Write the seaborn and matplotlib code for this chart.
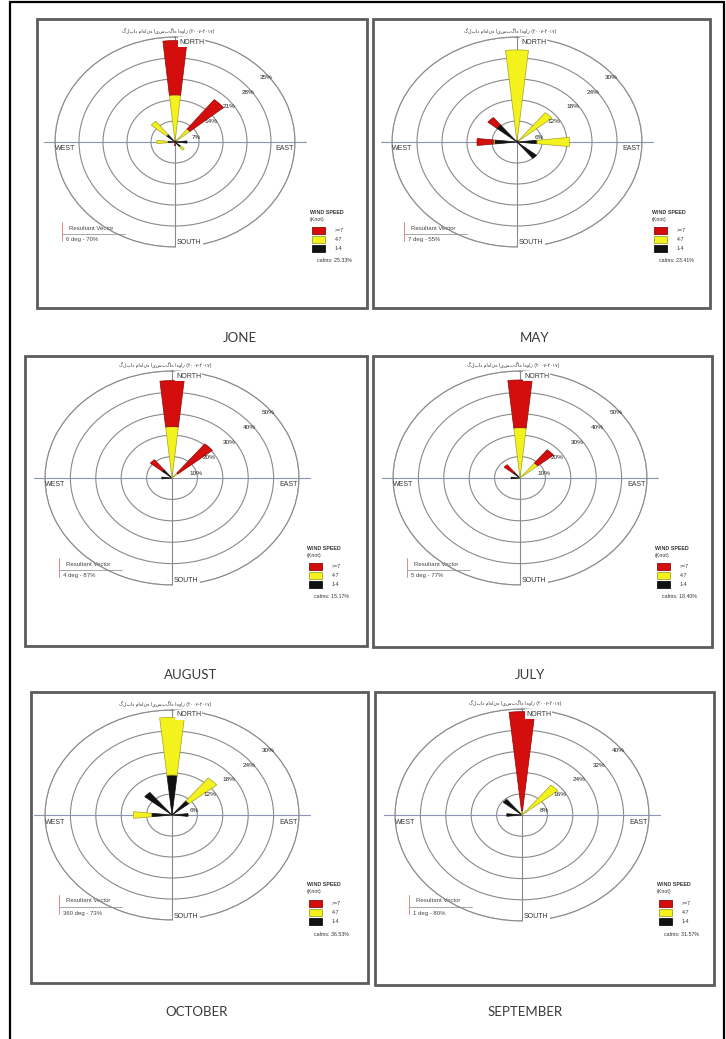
import numpy as np
import matplotlib
matplotlib.use("Agg")
import matplotlib.pyplot as plt
from matplotlib.patches import Rectangle
import seaborn as sns

# ---------------------------------------------------------------- data
DIRECTIONS = ["N", "NE", "E", "SE", "S", "SW", "W", "NW"]
BEARINGS = [0, 45, 90, 135, 180, 225, 270, 315]
SPEED_CLASSES = [">=7", "4-7", "1-4"]
MONTHS = ["JONE", "MAY", "AUGUST", "JULY", "OCTOBER", "SEPTEMBER"]

# frequency (%) per direction and wind-speed class (knots)
june_1_4 = [0.5, 0.7, 3.5, 2.1, 0.0, 0.0, 2.1, 3.2]
june_4_7 = [15.2, 4.9, 0.0, 1.4, 0.0, 0.0, 3.2, 5.7]
june_7p = [18.1, 12.6, 0.0, 0.0, 1.2, 0.0, 0.0, 0.0]

may_1_4 = [0.5, 0.5, 4.8, 6.0, 0.0, 0.0, 5.4, 6.3]
may_4_7 = [25.8, 10.3, 7.8, 0.0, 0.0, 0.0, 0.3, 0.0]
may_7p = [0.0, 0.0, 0.0, 0.0, 0.0, 0.0, 3.9, 2.7]

august_1_4 = [0.0, 0.0, 0.0, 0.0, 0.0, 0.0, 4.0, 5.0]
august_4_7 = [24.0, 3.0, 0.0, 0.0, 0.0, 0.0, 0.0, 0.0]
august_7p = [21.5, 17.5, 0.0, 0.0, 0.0, 0.0, 0.0, 6.0]

july_1_4 = [0.0, 0.0, 0.0, 0.0, 0.0, 0.0, 3.5, 3.5]
july_4_7 = [23.5, 9.0, 0.0, 0.0, 0.0, 0.0, 0.0, 0.0]
july_7p = [22.3, 8.0, 0.0, 0.0, 0.0, 0.0, 0.0, 4.5]

october_1_4 = [11.4, 5.2, 3.8, 0.0, 0.0, 0.0, 4.8, 8.3]
october_4_7 = [16.5, 8.4, 0.0, 0.0, 0.0, 0.0, 4.3, 0.0]
october_7p = [0.0, 0.0, 0.0, 0.0, 0.0, 0.0, 0.0, 0.0]

september_1_4 = [0.0, 0.0, 0.0, 0.0, 0.0, 0.0, 4.8, 7.6]
september_4_7 = [1.6, 14.5, 0.0, 0.0, 0.0, 0.0, 0.0, 0.0]
september_7p = [37.4, 0.0, 0.0, 0.0, 0.0, 0.0, 0.0, 0.0]

SLOW = [june_1_4, may_1_4, august_1_4, july_1_4, october_1_4, september_1_4]
MID = [june_4_7, may_4_7, august_4_7, july_4_7, october_4_7, september_4_7]
FAST = [june_7p, may_7p, august_7p, july_7p, october_7p, september_7p]

RING_STEPS = [7, 6, 10, 10, 6, 8]
CALMS = ["25.33%", "23.41%", "15.17%", "18.40%", "36.53%", "31.57%"]
RESULTANT = ["6 deg - 70%", "7 deg - 55%", "4 deg - 87%",
             "5 deg - 77%", "360 deg - 73%", "1 deg - 80%"]
TITLE_FA = "گلباد ماهانه ایستگاه اهواز (۲۰۰۷-۲۰۱۷)"

# ---------------------------------------------------------------- layout
W, H = 726, 1039
BOXES = [(37, 19, 367, 308), (373, 19, 710, 308),
         (25, 356, 367, 646), (373, 356, 712, 647),
         (31, 692, 368, 983), (375, 692, 714, 985)]
ROSES = [(175, 142, 120, 105), (517, 142, 125, 105),
         (172, 478, 127, 107), (520, 478, 127, 107),
         (172, 815, 127, 105), (522, 815, 127, 106)]
MONTH_POS = [(240, 338), (535, 338), (191, 675),
             (530, 675), (197, 1012), (525, 1012)]

C_FAST, C_MID, C_SLOW = "#d40d0d", "#f4f21c", "#111111"
E_FAST, E_MID, E_SLOW = "#8c0a0a", "#a3a32a", "#111111"
RING = "#8a8a8a"
AXIS = "#8d93b3"

sns.set_theme(style="white")
plt.rcParams["font.family"] = ["Liberation Sans", "DejaVu Sans"]

fig = plt.figure(figsize=(W / 100, H / 100), dpi=100)
fig.patch.set_facecolor("white")
bg = fig.add_axes([0, 0, 1, 1])
bg.set_xlim(0, W)
bg.set_ylim(H, 0)
bg.axis("off")

# page frame
bg.plot([10, 10], [2, H], color="black", lw=1.6)
bg.plot([10, 724], [2, 2], color="black", lw=1.6)
bg.plot([724, 724], [2, H], color="black", lw=1.6)

theta = np.deg2rad(BEARINGS)
width = np.deg2rad(12)

for i in range(6):
    x0, y0, x1, y1 = BOXES[i]
    bg.add_patch(Rectangle((x0, y0), x1 - x0, y1 - y0, fill=False,
                           edgecolor="#5c5c5c", lw=2.0))
    mx, my = MONTH_POS[i]
    bg.text(mx, my, MONTHS[i], ha="center", va="center", fontsize=9.5,
            family="Lato", color="#3a3a3a")

    cx, cy, rx, ry = ROSES[i]
    ax = fig.add_axes([(cx - rx) / W, 1 - (cy + ry) / H, 2 * rx / W, 2 * ry / H],
                      projection="polar")
    ax.set_aspect("auto")
    ax.patch.set_alpha(0)
    ax.set_theta_zero_location("N")
    ax.set_theta_direction(-1)
    step = RING_STEPS[i]
    rmax = 5 * step
    ax.set_ylim(0, rmax)
    ax.set_yticks(np.arange(1, 6) * step)
    ax.set_yticklabels([])
    ax.set_xticks([])
    ax.grid(True, axis="y", color=RING, lw=0.8)
    ax.spines["polar"].set_color(RING)
    ax.spines["polar"].set_linewidth(0.8)

    # compass cross
    ax.plot([np.pi / 2, np.pi / 2], [0, rmax * 1.09], color=AXIS, lw=0.8, clip_on=False, zorder=1)
    ax.plot([3 * np.pi / 2, 3 * np.pi / 2], [0, rmax * 1.09], color=AXIS, lw=0.8, clip_on=False, zorder=1)
    ax.plot([0, 0], [0, rmax], color=RING, lw=0.8, zorder=1)
    ax.plot([np.pi, np.pi], [0, rmax], color=RING, lw=0.8, zorder=1)

    # stacked sectors
    slow = np.array(SLOW[i])
    mid = np.array(MID[i])
    fast = np.array(FAST[i])
    for vals, base, fc, ec in [(slow, np.zeros(8), C_SLOW, E_SLOW),
                               (mid, slow, C_MID, E_MID),
                               (fast, slow + mid, C_FAST, E_FAST)]:
        m = vals > 0
        ax.bar(theta[m], vals[m], width=width, bottom=base[m], color=fc,
               edgecolor=ec, lw=0.5, zorder=3)

    # ring labels
    lab_ang = [72, 52, 50, 50, 49]
    lab_r = [0.73, 1.55, 2.6, 3.64, 4.67]
    for k in range(5):
        ax.text(np.deg2rad(lab_ang[k]), lab_r[k] * step, f"{(k + 1) * step}%",
                ha="left", va="center", fontsize=4.6, color="#222222", zorder=5)

    def fx(px):
        return (px - (cx - rx)) / (2 * rx)

    def fy(py):
        return ((cy + ry) - py) / (2 * ry)

    box = dict(boxstyle="square,pad=0.15", fc="white", ec="none")
    ax.text(fx(cx + 4), fy(cy - ry + 5), "NORTH", transform=ax.transAxes, ha="left",
            va="center", fontsize=5, color="#333333", bbox=box, zorder=6)
    ax.text(fx(cx + 2), fy(cy + ry - 4), "SOUTH", transform=ax.transAxes, ha="left",
            va="center", fontsize=5, color="#333333", bbox=box, zorder=6)
    ax.text(fx(cx - rx), fy(cy + 7), "WEST", transform=ax.transAxes, ha="left",
            va="center", fontsize=5, color="#333333", zorder=6)
    ax.text(fx(cx + rx - 1), fy(cy + 7), "EAST", transform=ax.transAxes, ha="right",
            va="center", fontsize=5, color="#333333", zorder=6)
    ax.text(fx(cx - 7), fy(cy - ry - 5), TITLE_FA, transform=ax.transAxes, ha="center",
            va="center", fontsize=3.3, family="DejaVu Sans", color="#333333", zorder=6)

    # resultant vector
    bg.plot([cx - 113, cx - 113], [cy + 80, cy + 99], color="#e08a8a", lw=0.7)
    bg.plot([cx - 113, cx - 50], [cy + 92, cy + 92], color="#9a9a9a", lw=0.6)
    bg.text(cx - 106, cy + 86, "Resultant Vector", ha="left", va="center",
            fontsize=4.3, color="#444444")
    bg.text(cx - 109, cy + 98, RESULTANT[i], ha="left", va="center",
            fontsize=4.3, color="#444444")

    # speed legend
    bg.text(cx + 135, cy + 70, "WIND SPEED", ha="left", va="center", fontsize=3.8,
            weight="bold", color="#333333")
    bg.text(cx + 135, cy + 77, "(Knot)", ha="left", va="center", fontsize=3.8,
            color="#333333")
    for k, (lab, fc, ec) in enumerate(zip(SPEED_CLASSES, [C_FAST, C_MID, C_SLOW],
                                          [E_FAST, E_MID, E_SLOW])):
        yy = cy + 85 + 9 * k
        bg.add_patch(Rectangle((cx + 137, yy), 13, 7, fc=fc, ec=ec, lw=0.6))
        bg.text(cx + 160, yy + 3.5, lab, ha="left", va="center", fontsize=3.8,
                color="#333333")
    bg.text(cx + 142, cy + 119, "calms: " + CALMS[i], ha="left", va="center",
            fontsize=3.8, color="#333333")

fig.savefig("out.png", dpi=100, facecolor="white")
